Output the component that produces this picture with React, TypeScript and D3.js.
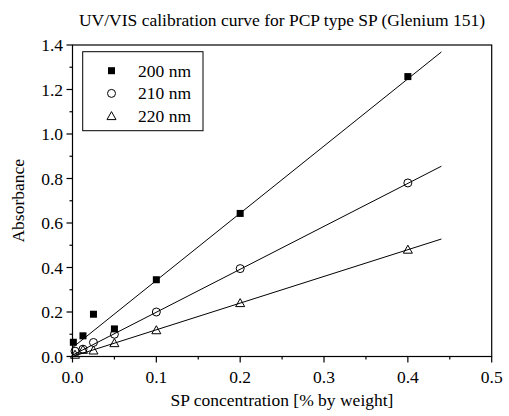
import React, { useEffect, useRef } from "react";
import * as d3 from "d3";

const conc200 = [0.001, 0.0125, 0.025, 0.05, 0.1, 0.2, 0.4];
const abs200 = [0.064, 0.093, 0.19, 0.124, 0.345, 0.643, 1.258];
const conc210 = [0.003, 0.0125, 0.025, 0.05, 0.1, 0.2, 0.4];
const abs210 = [0.024, 0.033, 0.063, 0.1, 0.2, 0.395, 0.78];
const conc220 = [0.003, 0.0125, 0.025, 0.05, 0.1, 0.2, 0.4];
const abs220 = [0.008, 0.03, 0.027, 0.06, 0.118, 0.24, 0.48];
// linear fits: [intercept, slope]
const fit200 = [0.04, 3.02];
const fit210 = [0.006, 1.93];
const fit220 = [0.0, 1.2];
const fitRange = [0, 0.44];
const xTicks = [0, 0.1, 0.2, 0.3, 0.4, 0.5];
const yTicks = [0, 0.2, 0.4, 0.6, 0.8, 1.0, 1.2, 1.4];
const xMinor = [0.05, 0.15, 0.25, 0.35, 0.45];
const yMinor = [0.1, 0.3, 0.5, 0.7, 0.9, 1.1, 1.3];
const legendLabels = ["200 nm", "210 nm", "220 nm"];
const titleText = "UV/VIS calibration curve for PCP type SP (Glenium 151)";
const xLabel = "SP concentration [% by weight]";
const yLabel = "Absorbance";

const FONT = "Times New Roman, Liberation Serif, serif";
const FS = "17.5px";

export default function App() {
  const ref = useRef<SVGSVGElement | null>(null);
  useEffect(() => {
    const svg = d3.select(ref.current);
    svg.selectAll("*").remove();
    const L = 72.5, R = 491.7, Tp = 45, B = 356.5;
    const x = d3.scaleLinear().domain([0, 0.5]).range([L, R]);
    const y = d3.scaleLinear().domain([0, 1.4]).range([B, Tp]);
    const fmt = d3.format(".1f");
    const series = [
      { c: conc200, a: abs200, fit: fit200, kind: "square" },
      { c: conc210, a: abs210, fit: fit210, kind: "circle" },
      { c: conc220, a: abs220, fit: fit220, kind: "triangle" },
    ];
    const text = (s: string, tx: number, ty: number, anchor: string) =>
      svg
        .append("text")
        .attr("x", tx)
        .attr("y", ty)
        .attr("text-anchor", anchor)
        .attr("font-family", FONT)
        .style("font-family", FONT)
        .style("font-size", FS)
        .attr("fill", "#000")
        .text(s);
    const marker = (kind: string, mx: number, my: number) => {
      if (kind === "square")
        svg.append("rect").attr("x", mx - 3.5).attr("y", my - 3.5).attr("width", 7).attr("height", 7).attr("fill", "#000");
      else if (kind === "circle")
        svg.append("circle").attr("cx", mx).attr("cy", my).attr("r", 4).attr("fill", "none").attr("stroke", "#000");
      else {
        const p = d3.path();
        p.moveTo(mx, my - 4.5);
        p.lineTo(mx + 4.5, my + 3.5);
        p.lineTo(mx - 4.5, my + 3.5);
        p.closePath();
        svg.append("path").attr("d", p.toString()).attr("fill", "none").attr("stroke", "#000");
      }
    };

    text(titleText, 282, 26, "middle");
    svg.append("rect").attr("x", L).attr("y", Tp).attr("width", R - L).attr("height", B - Tp)
      .attr("fill", "none").attr("stroke", "#000").attr("stroke-width", 1.2);
    series.forEach((s) => {
      const gen = d3.line<number>().x((d) => x(d)).y((d) => y(s.fit[0] + s.fit[1] * d));
      svg.append("path").attr("d", gen(fitRange) || "").attr("stroke", "#000").attr("fill", "none");
    });
    series.forEach((s) => s.c.forEach((c, j) => marker(s.kind, x(c), y(s.a[j]))));
    xTicks.forEach((t) => {
      svg.append("line").attr("x1", x(t)).attr("x2", x(t)).attr("y1", B).attr("y2", B + 6).attr("stroke", "#000").attr("stroke-width", 1.2);
      text(fmt(t), x(t), 383, "middle");
    });
    xMinor.forEach((t) => {
      svg.append("line").attr("x1", x(t)).attr("x2", x(t)).attr("y1", B).attr("y2", B + 3).attr("stroke", "#000").attr("stroke-width", 1.2);
    });
    yTicks.forEach((t) => {
      svg.append("line").attr("x1", L - 6).attr("x2", L).attr("y1", y(t)).attr("y2", y(t)).attr("stroke", "#000").attr("stroke-width", 1.2);
      text(fmt(t), 63, y(t) + 6, "end");
    });
    yMinor.forEach((t) => {
      svg.append("line").attr("x1", L - 3).attr("x2", L).attr("y1", y(t)).attr("y2", y(t)).attr("stroke", "#000").attr("stroke-width", 1.2);
    });
    text(xLabel, 282, 406, "middle");
    text(yLabel, 0, 0, "middle").attr("transform", `translate(24,${y(0.7)}) rotate(-90)`);
    svg.append("rect").attr("x", 82.7).attr("y", 51.7).attr("width", 120.3).attr("height", 79)
      .attr("fill", "#fff").attr("stroke", "#000");
    series.forEach((s, i) => {
      marker(s.kind, 111.5, 70.7 + i * 22.7);
      text(legendLabels[i], 138, 70.7 + i * 22.7 + 6, "start");
    });
  }, []);
  return (
    <svg
      ref={ref}
      width={509}
      height={416}
      style={{ position: "absolute", left: 0, top: 0, background: "#fff" }}
    />
  );
}
